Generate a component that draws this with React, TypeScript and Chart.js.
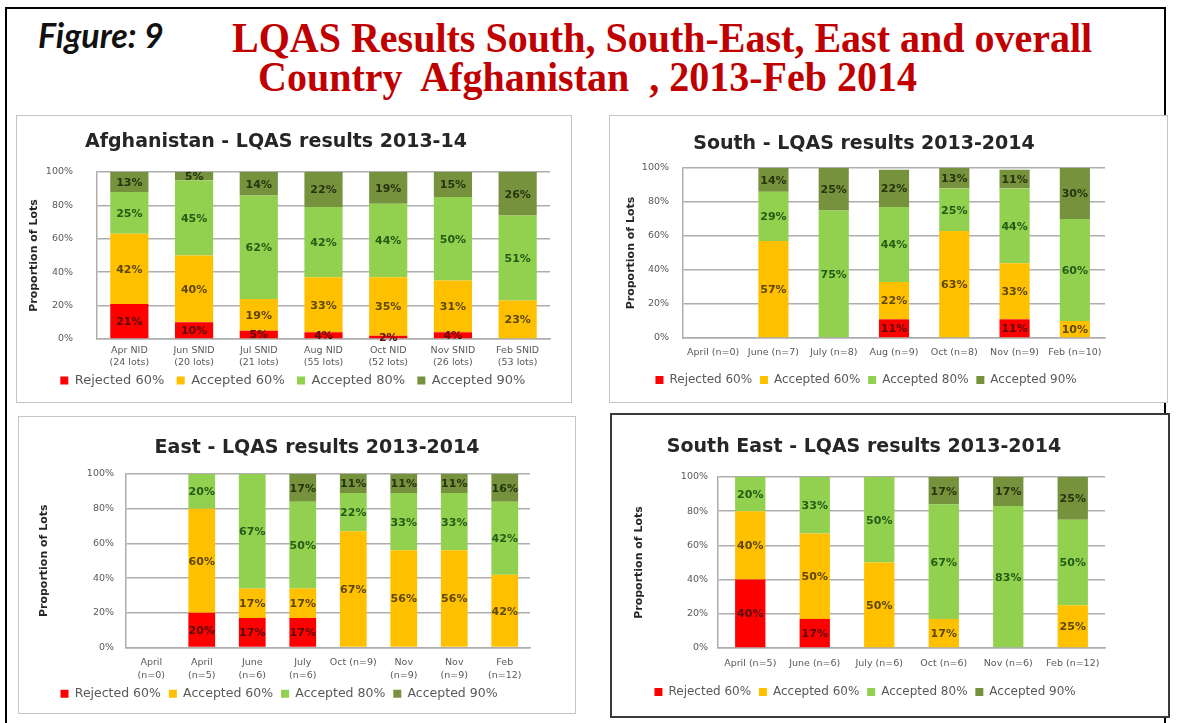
import React, { useEffect, useRef } from "react";
import { Chart, registerables } from "chart.js";

Chart.register(...registerables);

// ---------- data ----------
const SERIES = ["Rejected 60%", "Accepted 60%", "Accepted 80%", "Accepted 90%"];
const COLORS = ["#FF0000", "#FFC000", "#92D050", "#76923C"];
const LABEL_COLORS = ["#5a0c0c", "#5e4800", "#235c14", "#27350f"];

const AFG_CATS = [
  ["Apr NID", "(24 lots)"],
  ["Jun SNID", "(20 lots)"],
  ["Jul SNID", "(21 lots)"],
  ["Aug NID", "(55 lots)"],
  ["Oct NID", "(52 lots)"],
  ["Nov SNID", "(26 lots)"],
  ["Feb SNID", "(53 lots)"],
];
const AFG_REJ60 = [21, 10, 5, 4, 2, 4, 0];
const AFG_ACC60 = [42, 40, 19, 33, 35, 31, 23];
const AFG_ACC80 = [25, 45, 62, 42, 44, 50, 51];
const AFG_ACC90 = [13, 5, 14, 22, 19, 15, 26];

const SOUTH_CATS = ["April (n=0)", "June (n=7)", "July (n=8)", "Aug (n=9)", "Oct (n=8)", "Nov (n=9)", "Feb (n=10)"];
const SOUTH_REJ60 = [0, 0, 0, 11, 0, 11, 0];
const SOUTH_ACC60 = [0, 57, 0, 22, 63, 33, 10];
const SOUTH_ACC80 = [0, 29, 75, 44, 25, 44, 60];
const SOUTH_ACC90 = [0, 14, 25, 22, 13, 11, 30];

const EAST_CATS = [
  ["April", "(n=0)"],
  ["April", "(n=5)"],
  ["June", "(n=6)"],
  ["July", "(n=6)"],
  "Oct (n=9)",
  ["Nov", "(n=9)"],
  ["Nov", "(n=9)"],
  ["Feb", "(n=12)"],
];
const EAST_REJ60 = [0, 20, 17, 17, 0, 0, 0, 0];
const EAST_ACC60 = [0, 60, 17, 17, 67, 56, 56, 42];
const EAST_ACC80 = [0, 20, 67, 50, 22, 33, 33, 42];
const EAST_ACC90 = [0, 0, 0, 17, 11, 11, 11, 16];

const SE_CATS = ["April (n=5)", "June (n=6)", "July (n=6)", "Oct (n=6)", "Nov (n=6)", "Feb (n=12)"];
const SE_REJ60 = [40, 17, 0, 0, 0, 0];
const SE_ACC60 = [40, 50, 50, 17, 0, 25];
const SE_ACC80 = [20, 33, 50, 67, 83, 50];
const SE_ACC90 = [0, 0, 0, 17, 17, 25];

const Y_MAX = 100;
const Y_STEP = 20;

// ---------- styling ----------
const FONT = "'DejaVu Sans', sans-serif";
const GRID = "#adadad";
const TEXT = "#595959";

const valueLabels = {
  id: "valueLabels",
  afterDatasetsDraw(chart: any) {
    const ctx = chart.ctx;
    ctx.save();
    const area = chart.chartArea;
    ctx.beginPath();
    ctx.rect(area.left, area.top - 2, area.right - area.left, area.bottom - area.top + 6);
    ctx.clip();
    ctx.font = "bold 11px " + FONT;
    ctx.textAlign = "center";
    ctx.textBaseline = "middle";
    chart.data.datasets.forEach((ds: any, i: number) => {
      const meta = chart.getDatasetMeta(i);
      meta.data.forEach((bar: any, j: number) => {
        const v = ds.data[j];
        if (!v) return;
        const p = bar.getProps(["x", "y", "base"], true);
        const top = Math.max(p.y, area.top);
        ctx.fillStyle = LABEL_COLORS[i];
        ctx.fillText(v + "%", p.x, (top + p.base) / 2 + 1);
      });
    });
    ctx.restore();
  },
};

type PanelCfg = {
  box: { left: number; top: number; w: number; h: number; border: string };
  title: { text: string; cx: number; cy: number };
  cats: any[];
  series: number[][];
  barPct: number;
  pad: { L: number; R: number; T: number; B: number };
  yWidth: number;
  yRWidth: number;
  xH: number;
  yTitlePad: number;
  yTickPad: number;
  xTickPad: number;
  xLineH: number;
  legendFont: number;
  legendGap: string;
};

function ChartPanel({ cfg }: { cfg: PanelCfg }) {
  const ref = useRef<HTMLCanvasElement | null>(null);
  const bw = cfg.box.border.startsWith("2") ? 2 : 1;
  const cw = cfg.box.w - 2 * bw;
  const ch = cfg.box.h - 2 * bw;

  useEffect(() => {
    if (!ref.current) return;
    const chart = new Chart(ref.current, {
      type: "bar",
      data: {
        labels: cfg.cats,
        datasets: SERIES.map((name, i) => ({
          label: name,
          data: cfg.series[i],
          backgroundColor: COLORS[i],
          borderWidth: 0,
          barPercentage: cfg.barPct,
          categoryPercentage: 1,
          xAxisID: "x",
          yAxisID: "y",
        })),
      },
      options: {
        animation: false,
        responsive: false,
        devicePixelRatio: 1,
        layout: { padding: { left: cfg.pad.L, right: cfg.pad.R, top: cfg.pad.T, bottom: cfg.pad.B } },
        plugins: {
          title: { display: false },
          tooltip: { enabled: false },
          legend: {
            position: "bottom",
            labels: {
              boxWidth: 8,
              boxHeight: 8,
              padding: 4,
              color: TEXT,
              font: { family: FONT, size: cfg.legendFont },
              generateLabels: (c: any) =>
                Chart.defaults.plugins.legend.labels.generateLabels(c).map((it: any) => ({
                  ...it,
                  text: it.text + cfg.legendGap,
                })),
            },
          },
        },
        scales: {
          x: {
            stacked: true,
            grid: { display: false, drawTicks: false },
            border: { display: true, color: GRID, width: 1.5 },
            ticks: {
              color: TEXT,
              font: { family: FONT, size: 9.5, lineHeight: cfg.xLineH },
              padding: cfg.xTickPad,
              maxRotation: 0,
              autoSkip: false,
            },
            afterFit: (s: any) => {
              s.height = cfg.xH;
            },
          },
          y: {
            stacked: true,
            min: 0,
            max: Y_MAX,
            grid: { color: GRID, lineWidth: 1.5, drawTicks: false },
            border: { display: true, color: GRID, width: 1.5 },
            ticks: {
              stepSize: Y_STEP,
              color: TEXT,
              font: { family: FONT, size: 9.5 },
              padding: cfg.yTickPad,
              callback: (v: any) => v + "%",
            },
            title: {
              display: true,
              text: "Proportion of Lots",
              color: "#262626",
              font: { family: FONT, size: 11, weight: "bold" },
              padding: { top: cfg.yTitlePad, bottom: 0 },
            },
            afterFit: (s: any) => {
              s.width = cfg.yWidth;
            },
          },
          yR: {
            position: "right",
            display: true,
            min: 0,
            max: Y_MAX,
            grid: { display: false, drawTicks: false },
            border: { display: false },
            ticks: { display: false },
            afterFit: (s: any) => {
              s.width = cfg.yRWidth;
            },
          },
        },
      },
      plugins: [valueLabels],
    } as any);
    return () => chart.destroy();
  }, []);

  return (
    <>
      <div
        style={{
          position: "absolute",
          left: cfg.box.left,
          top: cfg.box.top,
          width: cfg.box.w,
          height: cfg.box.h,
          boxSizing: "border-box",
          border: cfg.box.border,
          background: "#fff",
        }}
      >
        <canvas ref={ref} width={cw} height={ch} style={{ display: "block", width: cw, height: ch }} />
      </div>
      <div
        style={{
          position: "absolute",
          left: cfg.title.cx,
          top: cfg.title.cy,
          transform: "translate(-50%, -50%)",
          whiteSpace: "nowrap",
          font: "bold 19px " + FONT,
          color: "#262626",
          lineHeight: "22px",
        }}
      >
        {cfg.title.text}
      </div>
    </>
  );
}

const PANELS: PanelCfg[] = [
  {
    box: { left: 16, top: 115, w: 556, h: 288, border: "1px solid #c4c4c4" },
    title: { text: "Afghanistan - LQAS results 2013-14", cx: 276, cy: 140 },
    cats: AFG_CATS,
    series: [AFG_REJ60, AFG_ACC60, AFG_ACC80, AFG_ACC90],
    barPct: 0.59,
    pad: { L: 6, R: 0, T: 56, B: 5 },
    yWidth: 74,
    yRWidth: 21,
    xH: 31,
    yTitlePad: 5,
    yTickPad: 24,
    xTickPad: 6,
    xLineH: 1.25,
    legendFont: 13,
    legendGap: "  ",
  },
  {
    box: { left: 609, top: 115, w: 559, h: 288, border: "1px solid #c4c4c4" },
    title: { text: "South - LQAS results 2013-2014", cx: 864, cy: 142 },
    cats: SOUTH_CATS,
    series: [SOUTH_REJ60, SOUTH_ACC60, SOUTH_ACC80, SOUTH_ACC90],
    barPct: 0.5,
    pad: { L: 0, R: 41, T: 52, B: 6 },
    yWidth: 73,
    yRWidth: 21,
    xH: 32,
    yTitlePad: 15,
    yTickPad: 14,
    xTickPad: 9,
    xLineH: 1.25,
    legendFont: 12,
    legendGap: " ",
  },
  {
    box: { left: 18, top: 416, w: 558, h: 298, border: "1px solid #c4c4c4" },
    title: { text: "East - LQAS results 2013-2014", cx: 317, cy: 446 },
    cats: EAST_CATS,
    series: [EAST_REJ60, EAST_ACC60, EAST_ACC80, EAST_ACC90],
    barPct: 0.53,
    pad: { L: 0, R: 32, T: 57, B: 3 },
    yWidth: 107,
    yRWidth: 13,
    xH: 36,
    yTitlePad: 19,
    yTickPad: 12,
    xTickPad: 9,
    xLineH: 1.35,
    legendFont: 12.5,
    legendGap: " ",
  },
  {
    box: { left: 610, top: 413, w: 560, h: 305, border: "2px solid #3a3a3a" },
    title: { text: "South East - LQAS results 2013-2014", cx: 864, cy: 445 },
    cats: SE_CATS,
    series: [SE_REJ60, SE_ACC60, SE_ACC80, SE_ACC90],
    barPct: 0.47,
    pad: { L: 0, R: 46, T: 62, B: 8 },
    yWidth: 106,
    yRWidth: 17,
    xH: 34,
    yTitlePad: 21,
    yTickPad: 10,
    xTickPad: 10,
    xLineH: 1.25,
    legendFont: 12,
    legendGap: " ",
  },
];

export default function App() {
  return (
    <div
      style={{
        position: "absolute",
        left: 0,
        top: 0,
        width: 1177,
        height: 723,
        overflow: "hidden",
        background: "#fff",
      }}
    >
      {/* outer frame */}
      <div
        style={{
          position: "absolute",
          left: 5,
          top: 7,
          width: 1157,
          height: 740,
          borderLeft: "2px solid #000",
          borderTop: "2px solid #000",
          borderRight: "2px solid #000",
        }}
      />
      <div
        style={{
          position: "absolute",
          left: 38,
          top: 16,
          font: "italic bold 34px Lato, sans-serif",
          lineHeight: "38px",
          color: "#111",
          whiteSpace: "nowrap",
        }}
      >
        Figure: 9
      </div>
      <div
        style={{
          position: "absolute",
          left: 232,
          top: 17,
          font: "bold 40px 'Liberation Serif', serif",
          lineHeight: "40px",
          color: "#C00000",
          whiteSpace: "pre",
          transform: "scaleY(1.06)",
          transformOrigin: "left top",
        }}
      >
        LQAS Results South, South-East, East and overall
      </div>
      <div
        style={{
          position: "absolute",
          left: 258,
          top: 56,
          font: "bold 40px 'Liberation Serif', serif",
          lineHeight: "40px",
          color: "#C00000",
          whiteSpace: "pre",
          transform: "scaleY(1.06)",
          transformOrigin: "left top",
        }}
      >
        {"Country  Afghanistan  , 2013-Feb 2014"}
      </div>
      {PANELS.map((p, i) => (
        <ChartPanel key={i} cfg={p} />
      ))}
    </div>
  );
}
